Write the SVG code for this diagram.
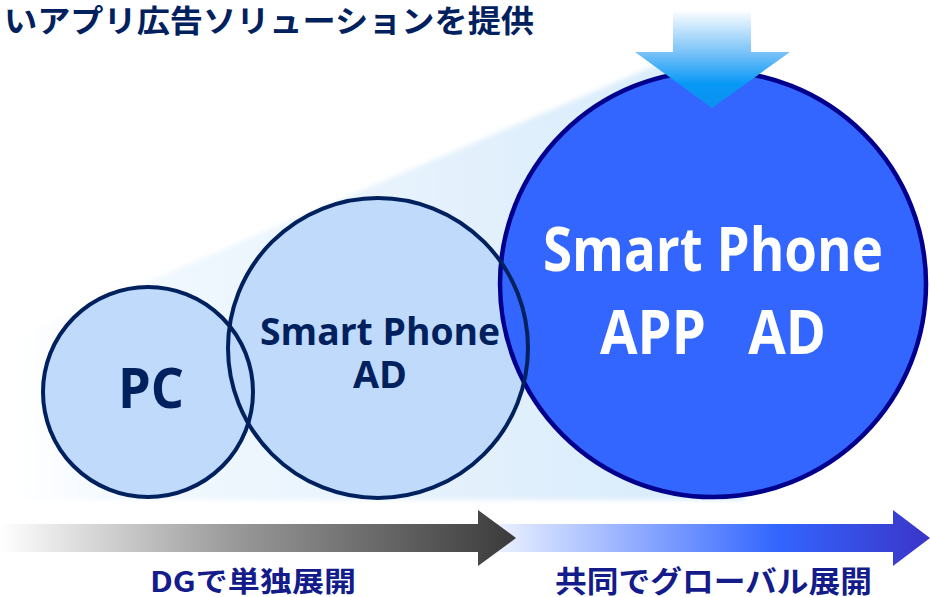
<svg xmlns="http://www.w3.org/2000/svg" width="930" height="597" viewBox="0 0 930 597">
<defs>
  <linearGradient id="wedgeGrad" x1="0" y1="0" x2="1" y2="0">
    <stop offset="0" stop-color="#ffffff"/>
    <stop offset="0.15" stop-color="#f3f9fe"/>
    <stop offset="1" stop-color="#d6eafb"/>
  </linearGradient>
  <linearGradient id="grayGrad" x1="0" y1="0" x2="1" y2="0">
    <stop offset="0" stop-color="#ffffff"/>
    <stop offset="0.45" stop-color="#9a9a9a"/>
    <stop offset="1" stop-color="#3a3a3a"/>
  </linearGradient>
  <linearGradient id="blueGrad" x1="0" y1="0" x2="1" y2="0">
    <stop offset="0" stop-color="#eef3ff"/>
    <stop offset="0.65" stop-color="#3366ff"/>
    <stop offset="1" stop-color="#3a35c8"/>
  </linearGradient>
  <linearGradient id="downGrad" x1="0" y1="0" x2="0" y2="1">
    <stop offset="0" stop-color="#ffffff"/>
    <stop offset="0.45" stop-color="#74c0f8"/>
    <stop offset="0.75" stop-color="#0898f6"/>
    <stop offset="1" stop-color="#0a90ee"/>
  </linearGradient>
  <filter id="soft" x="-5%" y="-5%" width="110%" height="110%">
    <feGaussianBlur stdDeviation="2.5"/>
  </filter>
  <style>
    .small { fill: #c0dafb; }
    .smallStroke { fill: none; stroke: #00215e; stroke-width: 4; }
    .lbl { font-family: "Open Sans", "Liberation Sans", sans-serif; font-weight: 700; text-anchor: middle; }
    .dark { fill: #00215e; }
    .white { fill: #ffffff; }
    .jp { font-family: "Noto Sans CJK JP", sans-serif; font-weight: 700; }
    .bottom { fill: #131c8a; }
  </style>
</defs>

<g id="background">
  <polygon points="10,340 720,38 745,500 10,500" fill="url(#wedgeGrad)" filter="url(#soft)"/>
</g>

<g id="title">
  <text x="4" y="32" class="jp dark" font-size="31" textLength="530" lengthAdjust="spacingAndGlyphs">いアプリ広告ソリューションを提供</text>
</g>

<g id="node-fills">
  <circle cx="148" cy="392" r="105" class="small"/>
  <circle cx="378" cy="348" r="150" class="small"/>
</g>

<g id="node-app">
  <circle cx="713" cy="284" r="213" fill="#3366ff" stroke="#00008c" stroke-width="4.5"/>
  <text x="713" y="271" class="lbl white" font-size="60" textLength="340" lengthAdjust="spacingAndGlyphs">Smart Phone</text>
  <text x="713" y="354" class="lbl white" font-size="60" textLength="226" lengthAdjust="spacingAndGlyphs" xml:space="preserve">APP   AD</text>
</g>

<g id="node-pc">
  <circle cx="148" cy="392" r="105" class="smallStroke"/>
  <text x="151" y="408" class="lbl dark" font-size="56" textLength="66" lengthAdjust="spacingAndGlyphs">PC</text>
</g>

<g id="node-sp">
  <circle cx="378" cy="348" r="150" class="smallStroke"/>
  <text x="380" y="345" class="lbl dark" font-size="37" textLength="240" lengthAdjust="spacingAndGlyphs">Smart Phone</text>
  <text x="380" y="388" class="lbl dark" font-size="37" textLength="54" lengthAdjust="spacingAndGlyphs">AD</text>
</g>

<g id="connectors">
  <polygon points="493,524 893,524 893,510 930,538 893,566 893,552 493,552" fill="url(#blueGrad)"/>
  <polygon points="0,524 478,524 478,510 516,538 478,566 478,552 0,552" fill="url(#grayGrad)"/>
  <polygon points="673,10 751,10 751,52 790,52 712,108 635,52 673,52" fill="url(#downGrad)"/>
</g>

<g id="labels">
  <text x="150" y="592" class="jp bottom" font-size="28" textLength="206" lengthAdjust="spacingAndGlyphs">DGで単独展開</text>
  <text x="555" y="592" class="jp bottom" font-size="30" textLength="317" lengthAdjust="spacingAndGlyphs">共同でグローバル展開</text>
</g>
</svg>
